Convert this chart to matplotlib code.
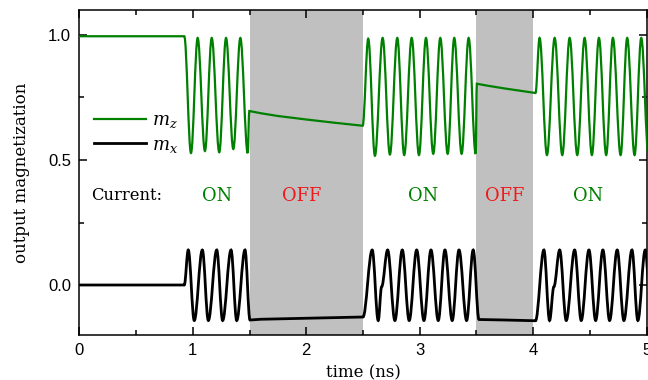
import matplotlib
matplotlib.use("Agg")
import matplotlib.pyplot as plt
from matplotlib.path import Path
from matplotlib.patches import PathPatch
from matplotlib.lines import Line2D
from matplotlib.ticker import MultipleLocator

plt.rcParams["mathtext.fontset"] = "dejavuserif"

# current switched off in these windows (ns)
off_start = [1.5, 3.5]
off_end = [2.5, 4.0]

# m_z : flat start, then extrema of the precession, straight decay when off
mz_start_t = [0.0, 0.925]
mz_start_v = [0.995, 0.995]
mz_on1_t = [0.925, 0.984, 1.043, 1.107, 1.167, 1.233, 1.293, 1.357, 1.419, 1.484, 1.498]
mz_on1_v = [0.995, 0.528, 0.988, 0.536, 0.988, 0.531, 0.988, 0.544, 0.988, 0.528, 0.696]
mz_off1_t = [1.498, 1.60, 1.75, 2.00, 2.25, 2.497]
mz_off1_v = [0.696, 0.687, 0.676, 0.662, 0.649, 0.637]
mz_on2_t = [2.497, 2.546, 2.605, 2.673, 2.737, 2.802, 2.863, 2.929, 2.993,
            3.055, 3.119, 3.181, 3.246, 3.304, 3.369, 3.431, 3.493, 3.503]
mz_on2_v = [0.637, 0.985, 0.517, 0.988, 0.522, 0.988, 0.520, 0.988, 0.520,
            0.988, 0.525, 0.988, 0.525, 0.988, 0.525, 0.988, 0.525, 0.805]
mz_off2_t = [3.503, 3.60, 3.75, 4.02]
mz_off2_v = [0.805, 0.797, 0.786, 0.768]
mz_on3_t = [4.02, 4.056, 4.121, 4.189, 4.256, 4.321, 4.388, 4.453, 4.517,
            4.579, 4.643, 4.702, 4.770, 4.828, 4.893, 4.952, 5.016]
mz_on3_v = [0.768, 0.988, 0.520, 0.988, 0.520, 0.988, 0.520, 0.988, 0.520,
            0.988, 0.520, 0.988, 0.520, 0.988, 0.520, 0.988, 0.520]

# m_x
mx_start_t = [0.0, 0.925]
mx_start_v = [0.0, 0.0]
mx_on1_t = [0.925, 0.960, 1.013, 1.084, 1.137, 1.211, 1.263, 1.337, 1.387, 1.460, 1.504]
mx_on1_v = [0.0, 0.140, -0.142, 0.140, -0.142, 0.140, -0.142, 0.140, -0.142, 0.140, -0.140]
mx_off1_t = [1.504, 1.60, 2.00, 2.50]
mx_off1_v = [-0.140, -0.137, -0.133, -0.128]
mx_on2_t = [2.50, 2.581, 2.634, 2.664, 2.717, 2.781, 2.846, 2.907, 2.973,
            3.037, 3.099, 3.163, 3.222, 3.286, 3.346, 3.413, 3.471, 3.522]
mx_on2_v = [-0.128, 0.140, -0.142, -0.007, 0.140, -0.142, 0.140, -0.142, 0.140,
            -0.142, 0.140, -0.142, 0.140, -0.142, 0.140, -0.142, 0.140, -0.138]
mx_off2_t = [3.522, 3.75, 4.02]
mx_off2_v = [-0.138, -0.140, -0.143]
mx_on3_t = [4.02, 4.094, 4.144, 4.182, 4.233, 4.291, 4.365, 4.423, 4.491,
            4.550, 4.614, 4.673, 4.740, 4.799, 4.870, 4.922, 4.987, 5.04]
mx_on3_v = [-0.143, 0.140, -0.142, -0.007, 0.140, -0.142, 0.140, -0.142, 0.140,
            -0.142, 0.140, -0.142, 0.140, -0.142, 0.140, -0.142, 0.140, -0.142]

# state labels
state_text = ["ON", "OFF", "ON", "OFF", "ON"]
state_t = [1.21, 1.96, 3.03, 3.75, 4.48]

GREEN = "#008000"
RED = "#f01818"
SERIF = ["DejaVu Serif"]


def make_path(pieces):
    """straight runs as lines, precession as half-cosine like bezier arcs"""
    verts, codes = [], []
    for t, v, smooth in pieces:
        if not verts:
            verts.append((t[0], v[0]))
            codes.append(Path.MOVETO)
        for i in range(1, len(t)):
            if smooth:
                d = 0.364 * (t[i] - t[i - 1])
                verts += [(t[i - 1] + d, v[i - 1]), (t[i] - d, v[i]), (t[i], v[i])]
                codes += [Path.CURVE4] * 3
            else:
                verts.append((t[i], v[i]))
                codes.append(Path.LINETO)
    return Path(verts, codes)


fig = plt.figure(figsize=(6.48, 3.80), dpi=100)
ax = fig.add_axes([0.1224, 0.1184, 0.8756, 0.8553])

for a, b in zip(off_start, off_end):
    ax.axvspan(a, b, color="#c0c0c0", lw=0, zorder=0)

mz_path = make_path([(mz_start_t, mz_start_v, False), (mz_on1_t, mz_on1_v, True),
                     (mz_off1_t, mz_off1_v, False), (mz_on2_t, mz_on2_v, True),
                     (mz_off2_t, mz_off2_v, False), (mz_on3_t, mz_on3_v, True)])
mx_path = make_path([(mx_start_t, mx_start_v, False), (mx_on1_t, mx_on1_v, True),
                     (mx_off1_t, mx_off1_v, False), (mx_on2_t, mx_on2_v, True),
                     (mx_off2_t, mx_off2_v, False), (mx_on3_t, mx_on3_v, True)])
ax.add_patch(PathPatch(mz_path, facecolor="none", edgecolor=GREEN, lw=1.6, zorder=3))
ax.add_patch(PathPatch(mx_path, facecolor="none", edgecolor="black", lw=2.0, zorder=3))

ax.text(0.10, 0.357, "Current:", family=SERIF, fontsize=11.8, va="center", ha="left")
for s, t in zip(state_text, state_t):
    ax.text(t, 0.357, s, family=SERIF, fontsize=12.8, va="center", ha="center",
            color=GREEN if s == "ON" else RED)

handles = [Line2D([], [], color=GREEN, lw=1.6), Line2D([], [], color="black", lw=2.0)]
ax.legend(handles, ["$m_z$", "$m_x$"], loc="center left", bbox_to_anchor=(0.026, 0.622),
          frameon=False, handlelength=2.9, handletextpad=0.3, borderpad=0,
          borderaxespad=0, labelspacing=0.32, prop={"family": SERIF, "size": 13})

ax.set_xlim(0, 5)
ax.set_ylim(-0.2, 1.1)
ax.xaxis.set_major_locator(MultipleLocator(1))
ax.xaxis.set_minor_locator(MultipleLocator(0.5))
ax.yaxis.set_major_locator(MultipleLocator(0.5))
ax.yaxis.set_minor_locator(MultipleLocator(0.25))
ax.tick_params(which="both", direction="in", top=True, right=True, width=1.1)
ax.tick_params(which="major", length=6, labelsize=12, pad=6)
ax.tick_params(which="minor", length=3.5)
for lab in ax.get_xticklabels() + ax.get_yticklabels():
    lab.set_family("Liberation Sans")
for sp in ax.spines.values():
    sp.set_linewidth(1.1)

ax.set_xlabel("time (ns)", family=SERIF, fontsize=12, labelpad=4)
ax.set_ylabel("output magnetization", family=SERIF, fontsize=12, labelpad=13)

fig.savefig("out.png", dpi=100)
